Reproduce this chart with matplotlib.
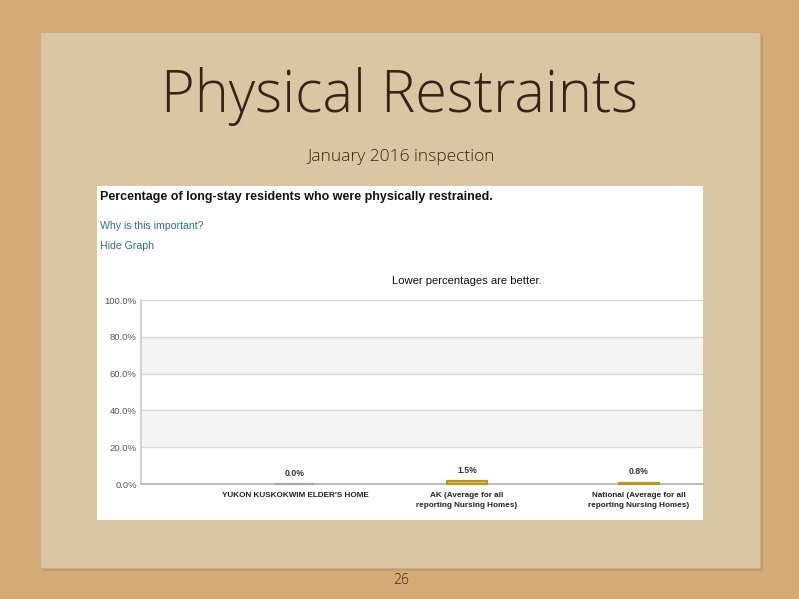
import matplotlib
matplotlib.use("Agg")
import matplotlib.pyplot as plt
from matplotlib.patches import Rectangle

# ---- data ----
categories = ["YUKON KUSKOKWIM ELDER'S HOME",
              "AK (Average for all\nreporting Nursing Homes)",
              "National (Average for all\nreporting Nursing Homes)"]
values = [0.0, 1.5, 0.8]
value_labels = ["0.0%", "1.5%", "0.8%"]
ytick_vals = [0, 20, 40, 60, 80, 100]
ytick_labels = ["0.0%", "20.0%", "40.0%", "60.0%", "80.0%", "100.0%"]

W, H = 799, 599
fig = plt.figure(figsize=(W / 100, H / 100), dpi=100)
fig.patch.set_facecolor("#d4ab74")

def fx(x):
    return x / W

def fy(y):
    return 1 - y / H

# paper sheet
bg = fig.add_axes([0, 0, 1, 1])
bg.set_xlim(0, W)
bg.set_ylim(H, 0)
bg.axis("off")
bg.add_patch(Rectangle((43, 35), 720, 536, facecolor="#a88560", edgecolor="none", alpha=0.35))
bg.add_patch(Rectangle((40, 32), 720, 536, facecolor="#dac6a3", edgecolor="#c7ad86", lw=0.8))
# white panel
bg.add_patch(Rectangle((97, 186), 606, 334, facecolor="white", edgecolor="none"))

# slide texts
fig.text(fx(400), fy(96), "Physical Restraints", ha="center", va="center",
         fontsize=41.5, family="Open Sans", weight="light", color="#3b2216")
fig.text(fx(401), fy(157), "January 2016 inspection", ha="center", va="center",
         fontsize=12.5, family="Open Sans", weight="light", color="#3b2216")
fig.text(fx(401), fy(581), "26", ha="center", va="center",
         fontsize=10, family="Open Sans", weight="light", color="#3b2216")

# panel texts
fig.text(fx(100), fy(197), "Percentage of long-stay residents who were physically restrained.",
         ha="left", va="center", fontsize=9.0, family="Liberation Sans", weight="bold", color="#111111")
fig.text(fx(100), fy(226), "Why is this important?", ha="left", va="center",
         fontsize=7.6, family="Liberation Sans", color="#2f6e8c")
fig.text(fx(100), fy(246), "Hide Graph", ha="left", va="center",
         fontsize=7.6, family="Liberation Sans", color="#2f6e8c")
fig.text(fx(467), fy(281), "Lower percentages are better.", ha="center", va="center",
         fontsize=8.1, family="Liberation Sans", color="#111111")

# chart axes
left, right, top, bottom = 141, 703, 300, 484
ax = fig.add_axes([fx(left), fy(bottom), (right - left) / W, (bottom - top) / H])
ax.set_facecolor("white")
x = list(range(len(categories)))
ax.set_xlim(-0.895, 2.372)
ax.set_ylim(0, 100)

for lo in (20, 60):
    ax.axhspan(lo, lo + 20, color="#f4f4f4", zorder=0, lw=0)
for v in ytick_vals[1:]:
    ax.axhline(v, color="#d8d8d8", lw=1.0, zorder=1)

colors = ["#a9b8c6", "#ead35e", "#ead35e"]
edges = ["#9aabbb", "#b8961f", "#b8961f"]
ax.bar(x, values, width=0.227, color=colors, edgecolor=edges, linewidth=1.6,
       zorder=3, clip_on=False)
for xi, v, lab in zip(x, values, value_labels):
    ax.text(xi, v + 3.5, lab, ha="center", va="bottom", fontsize=6.2,
            family="Liberation Sans", weight="bold", color="#333333")

ax.set_xticks(x)
ax.set_xticklabels(categories, fontsize=5.9, family="Liberation Sans", weight="bold",
                   color="#222222", linespacing=1.55)
ax.set_yticks(ytick_vals)
ax.set_yticklabels(ytick_labels, fontsize=6.8, family="Liberation Sans", color="#555555")
ax.tick_params(axis="y", length=0, pad=3)
ax.tick_params(axis="x", length=0, pad=6)
for s in ("top", "right"):
    ax.spines[s].set_visible(False)
ax.spines["left"].set_color("#cccccc")
ax.spines["left"].set_linewidth(1.2)
ax.spines["bottom"].set_color("#b0b0b0")
ax.spines["bottom"].set_linewidth(1.2)

fig.savefig("out.png", dpi=100, facecolor=fig.get_facecolor())
